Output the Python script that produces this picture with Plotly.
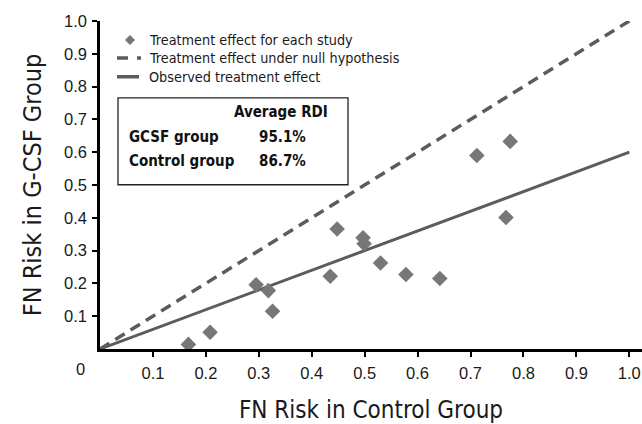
import plotly.graph_objects as go

# FN risk per study: control arm vs G-CSF arm
fn_control = [0.167, 0.208, 0.295, 0.318, 0.326, 0.435, 0.448, 0.497, 0.499,
              0.530, 0.578, 0.642, 0.712, 0.767, 0.775]
fn_gcsf = [0.014, 0.051, 0.196, 0.178, 0.115, 0.222, 0.366, 0.339, 0.321,
           0.262, 0.227, 0.215, 0.590, 0.401, 0.633]

# reference lines
null_x = [0.0, 1.0]
null_y = [0.0, 1.0]
observed_slope = 0.6
obs_x = [0.0, 1.0]
obs_y = [observed_slope * v for v in obs_x]

tick_vals = [0.1, 0.2, 0.3, 0.4, 0.5, 0.6, 0.7, 0.8, 0.9, 1.0]
tick_text = ["0.1", "0.2", "0.3", "0.4", "0.5", "0.6", "0.7", "0.8", "0.9", "1.0"]

legend_labels = ["Treatment effect for each study",
                 "Treatment effect under null hypothesis",
                 "Observed treatment effect"]

rdi_header = "Average RDI"
rdi_groups = ["GCSF group", "Control group"]
rdi_values = ["95.1%", "86.7%"]

NARROW = "DejaVu Sans Condensed, Liberation Sans Narrow, sans-serif"
REGULAR = "Liberation Sans, Arial, sans-serif"
TEXT_COLOR = "#1a1a1a"
LINE_COLOR = "#5c5c5c"
MARK_COLOR = "#777777"

fig = go.Figure()
fig.add_trace(go.Scatter(x=null_x, y=null_y, mode="lines", name=legend_labels[1],
                         line=dict(color=LINE_COLOR, width=3.5, dash="11px,7px"),
                         showlegend=False))
fig.add_trace(go.Scatter(x=obs_x, y=obs_y, mode="lines", name=legend_labels[2],
                         line=dict(color=LINE_COLOR, width=3), showlegend=False))
fig.add_trace(go.Scatter(x=fn_control, y=fn_gcsf, mode="markers", name=legend_labels[0],
                         marker=dict(symbol="diamond", size=12, color=MARK_COLOR),
                         cliponaxis=False, showlegend=False))

axis_common = dict(tickvals=tick_vals, ticktext=tick_text,
                   ticks="outside", ticklen=5, tickwidth=2, tickcolor="black",
                   showline=True, linewidth=2.5, linecolor="black",
                   showgrid=False, zeroline=False,
                   tickfont=dict(family=REGULAR, size=16.5, color=TEXT_COLOR))

fig.update_layout(
    width=642, height=424,
    margin=dict(l=100, r=0, t=21, b=74.5),
    paper_bgcolor="white", plot_bgcolor="white",
    xaxis=dict(**axis_common, range=[0, 1.024], ticklabelstandoff=2,
               title=dict(text="FN Risk in Control Group", standoff=24,
                          font=dict(family=NARROW, size=24, color=TEXT_COLOR))),
    yaxis=dict(**axis_common, range=[0, 1.0], ticklabelstandoff=2,
               title=dict(text="FN Risk in G-CSF Group", standoff=16,
                          font=dict(family=NARROW, size=25, color=TEXT_COLOR))),
)

# origin label
fig.add_annotation(x=0, y=0, xref="x", yref="y", text="0", showarrow=False,
                   xshift=-19.5, yshift=-19.5,
                   font=dict(family=REGULAR, size=16.5, color=TEXT_COLOR))

# legend drawn in the upper-left corner
leg_y = [0.942, 0.887, 0.830]
for lab, yy in zip(legend_labels, leg_y):
    fig.add_annotation(x=0.0867, y=yy, xref="paper", yref="paper", text=lab,
                       showarrow=False, xanchor="left", yanchor="middle",
                       font=dict(family=NARROW, size=14.3, color=TEXT_COLOR))
fig.add_shape(type="path", xref="paper", yref="paper",
              xsizemode="pixel", ysizemode="pixel", xanchor=0.0554, yanchor=leg_y[0],
              path="M -5 0 L 0 5 L 5 0 L 0 -5 Z", fillcolor=MARK_COLOR, line=dict(width=0))
fig.add_shape(type="line", xref="paper", yref="paper", x0=0.0314, x1=0.0756,
              y0=leg_y[1], y1=leg_y[1], line=dict(color=LINE_COLOR, width=3.5, dash="11px,9px"))
fig.add_shape(type="line", xref="paper", yref="paper", x0=0.0314, x1=0.072,
              y0=leg_y[2], y1=leg_y[2], line=dict(color=LINE_COLOR, width=3.5))

# RDI summary box
fig.add_shape(type="rect", xref="paper", yref="paper", x0=0.0332, x1=0.4576,
              y0=0.5008, y1=0.7656, line=dict(color="#222222", width=1.3), fillcolor="white")
fig.add_annotation(x=0.334, y=0.723, xref="paper", yref="paper", text=rdi_header,
                   showarrow=False, xanchor="center", yanchor="middle",
                   font=dict(family=NARROW, size=15, color="#111111", weight="bold"))
for grp, val, yy in zip(rdi_groups, rdi_values, [0.6469, 0.5738]):
    fig.add_annotation(x=0.0498, y=yy, xref="paper", yref="paper", text=grp,
                       showarrow=False, xanchor="left", yanchor="middle",
                       font=dict(family=NARROW, size=15, color="#111111", weight="bold"))
    fig.add_annotation(x=0.2897, y=yy, xref="paper", yref="paper", text=val,
                       showarrow=False, xanchor="left", yanchor="middle",
                       font=dict(family=NARROW, size=15, color="#111111", weight="bold"))

fig.write_html("out.html")
